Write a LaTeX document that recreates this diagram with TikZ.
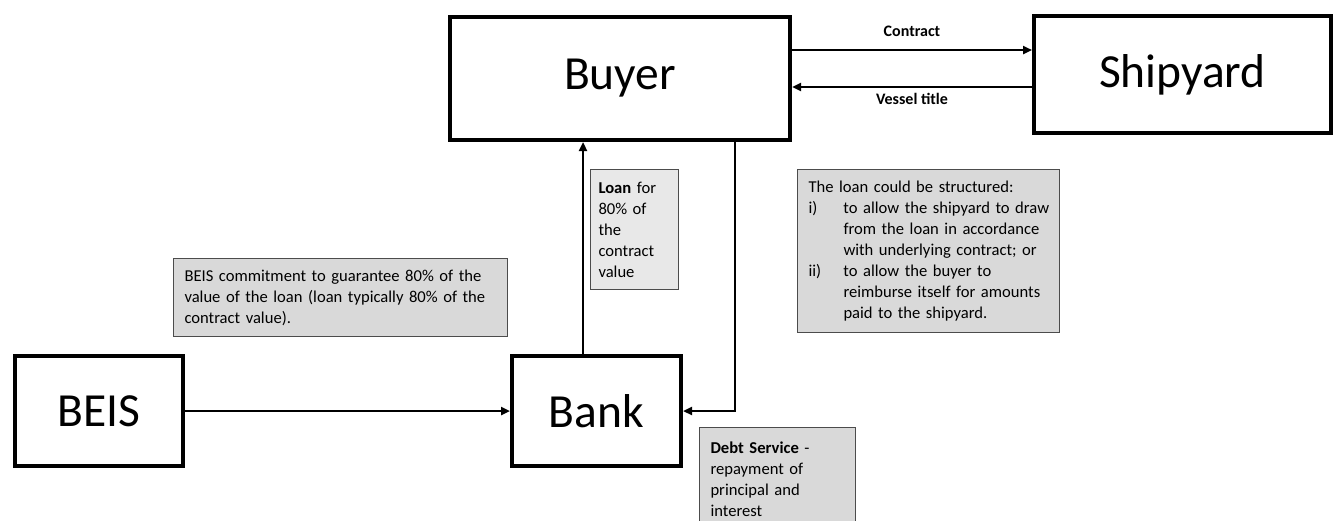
\documentclass[tikz,border=0pt]{standalone}
\usepackage{fontspec}
\setmainfont{Carlito}
\usetikzlibrary{arrows.meta}
\tikzset{
  bigbox/.style={draw=black, line width=4pt, fill=white, inner sep=0pt, font=\fontsize{47.5}{54}\selectfont},
  arr/.style={line width=2.5pt, -{Triangle[length=9pt,width=8pt]}},
  note/.style={draw=black!70, line width=1pt, fill=black!15, align=left, anchor=north west,
    inner ysep=0pt, font=\fontsize{16.6}{21}\selectfont},
  lbl/.style={font=\bfseries\fontsize{16}{18}\selectfont, inner sep=0pt}
}
\newcommand{\ind}{\hspace*{35pt}}
\newcommand{\num}[1]{\makebox[35pt][l]{#1}}
\begin{document}
\begin{tikzpicture}[x=1pt,y=-1pt]
\useasboundingbox (0,0) rectangle (1344,520);
% main boxes
\node[bigbox, minimum width=340pt, minimum height=123pt] (buyer) at (620,78.5) {Buyer};
\node[bigbox, minimum width=297pt, minimum height=117pt] (ship) at (1182.5,74.5) {Shipyard};
\node[bigbox, minimum width=168pt, minimum height=110pt] (beis) at (99,411) {BEIS};
\node[bigbox, minimum width=169pt, minimum height=110pt] (bank) at (596.5,411) {Bank};
% notes
\node[note, text width=72pt, inner xsep=8pt, minimum height=120pt, fill=black!9] (loan) at (590,169)
  {\mbox{\textbf{Loan} for}\\\mbox{80\% of}\\the\\contract\\value};
\node[note, text width=240pt, inner xsep=11pt, minimum height=163pt] (struct) at (797,169)
  {\mbox{The loan could be structured:}\\
   \mbox{\num{i)}to allow the shipyard to draw}\\
   \mbox{\ind from the loan in accordance}\\
   \mbox{\ind with underlying contract; or}\\
   \mbox{\num{ii)}to allow the buyer to}\\
   \mbox{\ind reimburse itself for amounts}\\
   \mbox{\ind paid to the shipyard.}};
\node[note, text width=312pt, inner xsep=11pt, minimum height=78pt] (guar) at (173,258)
  {\mbox{BEIS commitment to guarantee 80\% of the}\\\mbox{value of the loan (loan typically 80\% of the}\\\mbox{contract value).}};
\node[note, text width=134pt, inner xsep=11pt, minimum height=104pt] (debt) at (699,427)
  {\mbox{\textbf{Debt Service} -}\\repayment of\\principal and\\interest};
% connectors
\draw[arr] (buyer.east |- 0,50) -- node[lbl, above=12pt] (lcontract) {Contract} (ship.west |- 0,50);
\draw[arr] (ship.west |- 0,87) -- node[lbl, below=5pt] (lvessel) {Vessel title} (buyer.east |- 0,87);
\draw[arr] (bank.north -| 583,0) -- (buyer.south -| 583,0);
\coordinate (turn) at (735,411);
\draw[arr] (buyer.south -| turn) -- (turn) -- (bank.east |- turn);
\draw[arr] (beis.east) -- (bank.west);
\end{tikzpicture}
\end{document}
